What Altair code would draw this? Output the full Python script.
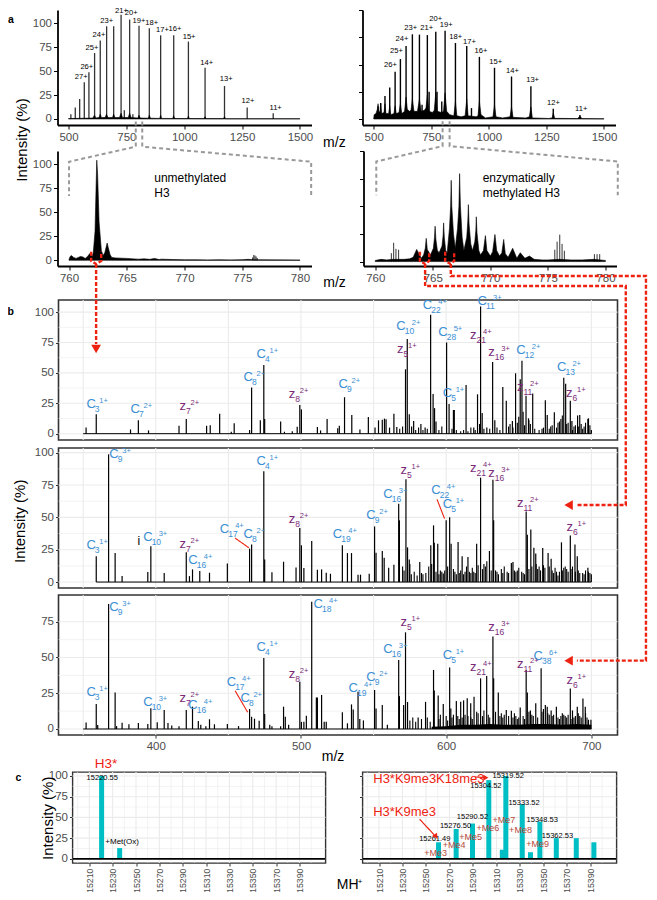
import altair as alt
import pandas as pd

FONT = "Liberation Sans"
GREY = "#4d4d4d"
BOX = "#333333"
BLUE = "#3b8fd4"
PURPLE = "#7a2a78"
RED = "#ee2211"
TEAL = "#00BFC4"
DASHGREY = "#999999"

# ---------- panel a, top ----------
a1_peaks = [(510,5),(529,12),(548,21),(568,38.5),(588,49),(612.5,69),(637,82),(664.5,97),(695,97),(727,109),
            (741,9),(764,104),(778,5),(804.5,97.5),(849,95),(898,87.5),(954.5,87.5),(1018,81),(1090,53.5),
            (1174,34.5),(1272,12),(1384.5,6)]
a1_base = [(500,.4),(605,1),(612,4),(618,1),(632,1.5),(637,5),(642,1.5),(658,1.5),(664,5),(670,1.5),(690,1.5),(695,5),
           (700,1.5),(720,1.5),(727,6),(733,1.5),(758,1.5),(764,6),(770,1.5),(800,1),(804,4),(810,1),(845,.8),(849,4),
           (854,.8),(894,.6),(898,4),(902,.6),(950,.5),(954,3.5),(959,.5),(1014,.5),(1018,3),(1022,.5),(1086,.4),(1090,2.5),
           (1094,.4),(1170,.4),(1174,2.5),(1178,.3),(1500,.3)]
a1_labels = [("27+",555,43.7),("26+",579,54.5),("25+",601,74),("24+",631,88),("23+",664.5,102),("21+",729,112.5),
             ("20+",771,111),("19+",804.5,103),("18+",859,100),("17+",905.5,93),("16+",960,94),("15+",1021,85.7),
             ("14+",1097,58.4),("13+",1181,41.3),("12+",1275,19),("11+",1395,11.5)]
a2_peaks = [(519,11.6),(530.4,14.7),(549,21),(569.6,29),(593,43.4),(616,55),(640.6,67),(668,77.7),(698.6,77.4),
            (710,13),(733,77),(740.6,25),(769.6,80),(775,25),(795.6,16),(810,81),(855,69.7),(904,67),(924.6,10),
            (959,57),(1024.6,47),(1098.5,39),(1182.6,30),(1279.7,9.5),(1395.6,3.7)]
a2_base = [(500,0),(502,4),(510,5),(516,9),(519,14),(522,6),(527,7),(530.4,14),(534,5),(545,6),(549,14),(553,5),(565,5),
           (569.6,12),(574,4),(588,5),(593,12),(598,5),(610,6),(616,14),(622,5),(634,7),(640.6,20),(646,9),(655,7),(662,8),
           (668,18),(675,7),(690,7),(698.6,18),(706,7),(720,8),(727,10),(733,22),(740,7),(755,6),(763,8),(769.6,24),(776,7),
           (795,6),(803,7),(810,24),(817,7),(830,4),(848,3),(855,16),(861,3),(880,2),(897,3),(904,18),(910,3),(945,2),(953,3),
           (959,16),(966,4),(985,1),(1018,2),(1024.6,13),(1031,2),(1060,1),(1092,2),(1098.5,11),(1105,1.5),(1160,1),(1176,2),
           (1182.6,11),(1189,1),(1260,.5),(1275,1),(1280,5.5),(1286,.6),(1385,.4),(1396,2.5),(1404,.4),(1500,.2)]
a2_labels = [("26+",572.5,49.5),("25+",598.6,62),("24+",623,73.4),("23+",661,83.5),("21+",730,83.5),("20+",769.6,92),
             ("19+",814.5,86),("18+",856,75),("17+",915.6,71),("16+",966,62.5),("15+",1030,52),("14+",1103,44.4),
             ("13+",1190,35.5),("12+",1281,14.7),("11+",1401,9.2)]

# ---------- panel a, zooms ----------
b1_env = [(760,1),(760.1,4),(760.2,5),(760.4,3),(760.6,2),(760.8,3),(761,4),(761.2,3.5),(761.4,2),(761.6,4),(761.8,7),
          (762,4),(762.1,8),(762.25,30),(762.3,55),(762.35,80),(762.4,104),(762.47,90),(762.55,60),(762.6,40),
          (762.7,25),(762.8,10),(762.95,5),(763.1,8),(763.2,13),(763.3,18),(763.4,13),(763.55,6),(763.7,3),(764,2.5),
          (765,2),(766,1.2),(766.5,1.5),(767,1),(767.4,2),(767.8,.8),(768,1.2),(769,.8),(770,.5),(771,.5),(772,.4),
          (773,.5),(774,.4),(775,.6),(775.5,1),(776,.6),(780,.3)]
b1_spikes = [(775.9,3),(776,5.5),(776.1,5),(776.2,4),(776.3,2.5)]
b1_zoomlines = [(1,765.78,144),(1,765.78,118),(1,760,102.4),(1,760,66.7),
                (2,766.34,144),(2,766.34,118),(2,780.97,102.4),(2,780.97,66.7)]
b2_env = [(760,1),(760.5,2),(761,1.5),(761.5,2),(762,2),(762.5,2),(763,2.5),(763.3,4),(763.6,11),(764,3),(764.2,6),
          (764.35,12),(764.43,21),(764.52,11),(764.8,6),(765.05,12),(765.15,22),(765.2,32),(765.27,20),(765.4,10),(765.55,8),
          (765.8,14),(765.9,24),(765.94,35),(766,22),(766.12,10),(766.25,8),(766.45,30),(766.55,50),(766.6,73.5),(766.65,50),
          (766.8,25),(766.95,12),(767.15,30),(767.27,50),(767.33,79.5),(767.4,50),(767.55,22),(767.7,10),(767.95,22),(768.04,36),
          (768.09,51.5),(768.15,34),(768.3,16),(768.45,10),(768.65,18),(768.74,28),(768.78,40.5),(768.84,26),(769,10),
          (769.15,6),(769.4,10),(769.57,23.5),(769.7,10),(770,5),(770.2,9),(770.4,24.5),(770.55,10),(770.8,5),(771,8),(771.16,20),
          (771.3,7),(771.55,4),(771.94,12),(772.3,3),(772.6,8),(773,3),(773.4,5),(773.8,2),(774.5,1.5),(775,1.5),(776,2),
          (777,1.5),(778,1.5),(779,2),(780,1)]
b2_spikes = [(761.4,7.6),(761.6,17),(761.8,11.5),(762.03,10.7),(775.6,10.7),(775.8,18),(776.03,24.4),(776.23,16),
             (776.43,9.8),(779.04,6.7),(779.27,6.7),(779.5,6.7)]
b2_zoomlines = [(1,765.85,126.8),(1,765.85,104.4),(1,760.09,90.5),(1,760.09,60),
                (2,766.46,126.8),(2,766.46,104.4),(2,781.07,90.5),(2,781.07,60)]

# ---------- panel b ----------
p1_peaks = [(352,5),(359,16),(382.6,3.5),(388,11),(395,2.7),(416,6.6),(421,12),(435,6.5),(437.5,7),(444,16.5),(452,1.6),
            (454,8.5),(464.6,3),(466,38),(472,11),(474.4,56.6),(475,12),(486,10),(488.6,1.6),(494,2),(497.4,5.8),
            (499.2,23.6),(500.3,20),(511.3,5.5),(513.5,2.7),(518,12),(525.3,4.4),(526.4,6.6),(530,30),(535,15.4),
            (540.6,3.5),(546.4,13.7),(551,5),(553.4,11),(556,11.5),(557.5,12.4),(558.6,11.8),(561,5),(564,16.5),(566,5.5),
            (572,53),(573.2,78),(574.6,16),(576.2,6),(577.6,10.4),(582.6,8),(585.5,5),(589.3,97.8),(591,32.7),(592,21),
            (593,10),(600.3,75),(602,24.5),(605,19.5),(605.6,19.5),(613.7,40),(619,5),(621.6,32.4),(623.7,104.7),(624.8,17),
            (628,5),(632,59),(633.5,11),(639,38.5),(641.4,27),(645.6,10.4),(647.8,49.7),(651,44.8),(652.2,60),(655,31.3),
            (656.7,12.6),(659.6,33),(668.3,27.5),(669.6,15.4),(674.5,17.6),(681,46),(682.3,41),(685.5,27),(686.6,10.4),
            (690.5,15),(692,15.4),(697.6,12),(698,12.6),(700,3)]
p1_grass = [(568,4),(570,6),(579,3),(581,5),(584,3),(587,4),(595,3),(597,6),(604,4),(607,3),(610,2),(612,3),(615,2),(617,5),
            (620,3),(623,8),(626,4),(630,4),(635,5),(637,3),(643,6),(644,8),(646,5),(649,9),(650,14),(653,18),(654,7),
            (657,11),(658,8),(661,4),(664,3),(666,4),(667,5),(671,4),(672,6),(673,7),(676,5),(677,9),(678,10),(679,12),
            (680,15),(683,8),(684,9),(687,3),(688,6),(689,7),(691,6),(693,8),(694,4),(695,6),(696,9),(699,7)]
p2_peaks = [(359,20),(367.5,98.7),(372,22.4),(376.8,4.6),(394.5,7.7),(396.6,27.6),(405.8,7),(421,23),(423.2,4.6),(425.3,9.8),
            (430.3,8.5),(437,7.2),(449.3,14.4),(464.6,25.8),(466,29),(474.4,85.6),(475,17.5),(480,7.5),(488,15.7),(496.6,11.3),
            (499.2,41.8),(500.3,28.4),(502,10.8),(507.4,31.7),(511.3,9.5),(514.2,9.8),(517.4,7.2),(520.3,6.4),(528.5,28.4),
            (532,22.4),(534.8,22.4),(539.3,5.7),(541,5.7),(547,6.4),(550.7,43),(551.7,22.7),(556,24),(557.3,18.8),(560.4,11),
            (564,13.4),(567.3,60.6),(567.8,47.7),(572.3,79.4),(573.4,26.8),(574.6,17.5),(581.8,15.5),(589.4,28.4),(591.3,43.8),
            (591.8,30.4),(594.2,29.6),(598,6.7),(600,47.7),(602.4,50),(603.4,29.6),(608.2,31),(611,20),(615,19.4),(621,29.6),
            (623.7,80.7),(629.8,24),(632.2,79),(632.7,47.7),(644.9,14.7),(646,15.5),(655.1,54.6),(655.9,36.6),(658.3,40.7),
            (660.4,26.5),(661.7,22),(666.5,26.3),(670.2,22.4),(672.3,18),(679.4,30.7),(685.5,36),(688.7,29),(690.3,20),(697.6,11)]
p2_grass = [(570,12),(571,9),(575,14),(576,6),(578,8),(580,5),(583,7),(584,6),(586,7),(588,12),(590,14),(593,8),(595,6),(596,9),
            (597,8),(599,9),(601,12),(605,10),(606,8),(607,6),(609,7),(610,9),(612,6),(613,8),(614,12),(616,8),(617,7),(618,11),
            (619,8),(620,7),(622,13),(625,10),(626,14),(627,12),(628,16),(631,9),(634,9),(635,8),(636,6),(638,10),(639,7),(640,12),
            (642,8),(643,7),(647,9),(648,8),(649,9),(650,11),(652,8),(653,7),(654,6),(657,10),(659,12),(662,14),(663,10),(664,12),
            (665,9),(667,13),(668,11),(671,12),(673,9),(674,7),(675,11),(676,8),(677,5),(678,8),(680,9),(681,11),(682,12),(683,10),
            (684,8),(686,10),(687,12),(689,8),(691,9),(692,7),(694,7),(695,6),(696,9),(698,8),(699,7),(700,6)]
p3_peaks = [(352,4.6),(359,17.5),(360,2.8),(367.5,87.4),(372,25.6),(373,2),(376.8,4.4),(381.5,3.3),(388,4.2),(394.5,3.5),(396.6,14.5),
            (401,4.7),(405.8,13.3),(408.4,4.2),(411,2.5),(416,2),(421,13.3),(425.3,15.6),(429.3,5.6),(431,3),(434.5,2),(437,6.8),
            (440.4,3.3),(449.3,3.5),(457,2),(464.6,14),(466,8.6),(468,7.2),(471.2,5.8),(474.4,49.6),(475,10.5),(478.5,3),(480,2),
            (486,2),(488,15.6),(489.2,8.6),(491.5,3),(499.2,33),(500.3,5),(502,5),(503.7,9.3),(507.4,89),(510.6,22),(511.3,22),
            (514.2,23.8),(516,5),(517.4,5),(528.5,11.7),(532,4),(534.8,17.2),(536,13.7),(539.3,26),(540.5,7),(543,6),(550.7,27.3),
            (551.7,14.4),(556,16.8),(559.5,3),(567.3,48.3),(567.8,23),(570.7,16.8),(572,67.6),(573.4,18.9),(580.7,8),(585.8,19),
            (591.3,41.3),(591.8,27),(594.5,23.5),(598,17.5),(602.4,43),(603.2,14.4),(607,19.6),(610,19),(612,20),(614.5,21.5),
            (616.9,18),(619.2,22.6),(623.7,35.4),(627.9,37),(632.2,64.6),(632.7,35.4),(635.9,25.6),(641.4,13.3),(644.9,12.8),(651,15),
            (655.1,41.3),(655.9,25.6),(658,13),(661.7,18),(665.4,42.4),(668.3,16.8),(669.6,15.6),(672.3,13),(675.9,15.6),(680,11),
            (685.5,28.4),(687,13),(690.3,15.6),(694.2,21.4),(695.8,15.6),(698,6.5),(699.7,6.5)]
p3_grass = [(575,6),(577,8),(579,5),(583,7),(587,8),(589,5),(595,7),(596,10),(600,9),(601,6),(604,8),(605,10),(608,9),(609,7),
            (611,8),(613,10),(615,9),(617,8),(618,7),(621,12),(622,11),(625,9),(626,13),(629,10),(630,8),(634,12),(637,9),(638,11),
            (639,8),(640,10),(643,9),(646,8),(647,11),(648,9),(649,7),(650,8),(653,9),(654,7),(657,12),(659,10),(660,9),(663,8),
            (666,12),(667,14),(670,11),(671,10),(673,9),(674,10),(677,8),(678,7),(679,9),(681,10),(682,9),(683,8),(684,10),(686,7),
            (688,8),(689,9),(691,11),(692,9),(693,8),(696,11),(697,8)]
p3_floor = [(590,1.5),(600,2),(610,3),(620,3),(630,3.5),(640,3),(650,3),(660,3.5),(670,3.5),(680,3),(690,3.5),(700,3)]

# (letter, subscript, superscript, m/z, intensity)
p1_labels = [("C","3","1+",352.2,24.5),("C","7","2+",382.6,20),("z","7","2+",416.4,22.8),("C","8","2+",460.4,46.4),
             ("C","4","1+",469.4,65.4),("z","8","2+",491.6,32.4),("C","9","2+",525.9,40.7),("C","10","2+",565.7,89),
             ("z","5","1+",566.2,69.8),("C","22","4+",583.9,105.5),("C","28","5+",594.5,84),("C","5","1+",597.6,33.8),
             ("C","11","3+",621.6,108.8),("z","21","4+",616.4,80.8),("z","16","3+",629,67.6),("C","12","2+",648.3,69),
             ("z","11","2+",648.8,38.2),("C","13","2+",676.3,54.7),("z","6","1+",682.6,33.2)]
p2_labels = [("C","3","1+",352.2,29),("C","9","3+",368,98.7),("C","4","1+",469.4,93.3),("C","10","3+",391.3,34.8),
             ("z","7","2+",416.4,29.6),("C","16","4+",422.4,17.3),("C","17","4+",444,41.2),("C","8","2+",460.4,37.4),
             ("z","8","2+",491.6,48.5),("C","19","4+",521.9,36.9),("C","9","2+",545,52),("C","16","3+",556.7,68.3),
             ("z","5","1+",568.6,86.3),("C","22","4+",589.7,70.9),("C","5","1+",597.6,60),("z","21","4+",616.4,88.4),
             ("z","16","3+",629,84.5),("z","11","2+",648.8,61.3),("z","6","1+",682.9,42.5)]
p3_labels = [("C","3","1+",352.2,26),("C","9","3+",368,85.5),("C","10","3+",391.3,19),("z","7","2+",416.4,22),
             ("C","16","4+",422.4,16.8),("C","17","4+",448.8,32.6),("C","8","2+",458.3,22),("C","4","1+",469.4,57.3),
             ("z","8","2+",491.6,38.5),("C","18","4+",508.7,87.4),("C","19","4+",532.7,28.9),("C","9","2+",545,36.6),
             ("C","16","3+",556.7,56),("z","5","1+",568.6,74.6),("C","5","1+",597.6,51.7),("z","21","4+",616.4,43.6),
             ("z","16","3+",629,71.6),("z","11","2+",648.8,45.5),("C","38","6+",660.2,51.3),("z","6","1+",682.9,34.3)]
p2_leaders = [(1,454.6,34),(1,464.1,26.5),(2,593.7,63.9),(2,598.9,49)]
p3_leaders = [(1,454.6,26.8),(1,463.3,11.7)]

# red connectors, expressed on panel-3 axes
red_paths = [(1,355.5,333.8),(1,355.5,327.3),(1,358.9,325.2),(1,362.4,327.3),(1,362.4,333.8),
             (2,358.9,325.2),(2,358.9,269.2),
             (3,581.9,333.8),(3,581.9,327.3),(3,585.5,325.2),(3,588.3,327.3),(3,588.3,333.8),
             (4,585.5,325.2),(4,585.5,309.8),(4,723.7,309.8),(4,723.7,156.6),(4,690,156.6),
             (5,599.3,333.8),(5,599.3,327.3),(5,603.2,325.2),(5,605.5,327.3),(5,605.5,333.8),
             (6,603.2,325.2),(6,603.2,316.8),(6,737.6,316.8),(6,737.6,47.8),(6,690,47.8)]
red_heads = [("triangle-down",358.9,265.7),("triangle-left",684.3,156.6),("triangle-left",684.3,47.8)]

# ---------- panel c ----------
c1_bars = [(15220.55,100),(15236,13)]
c2_bars = [(15260.7,20),(15275.7,36),(15289.6,42.6),(15303.5,95),(15315,11),(15318,100),(15332,66),(15339,8),
           (15347,45),(15361,25),(15378,25),(15393,20)]
c2_mass = [("15261.49",15257.5,23.7),("15276.50",15275.2,40),("15290.52",15289.6,51),("15304.52",15301,88.4),
           ("15319.52",15320,99.6),("15333.52",15333.5,67.9),("15348.53",15349,46.6),("15362.53",15362,27.7)]
c2_me = [("+Me3",15258.3,7.6),("+Me4",15274,16.9),("+Me5",15288,26),("+Me6",15302.7,37),("+Me7",15316.4,46.6),
         ("+Me8",15330.5,34.5),("+Me9",15345,18.5)]
c_ticks = [15210,15230,15250,15270,15290,15310,15330,15350,15370,15390]
c_xgrid = [15200,15210,15220,15230,15240,15250,15260,15270,15280,15290,15300,15310,15320,15330,15340,15350,15360,15370,15380,15390,15400]
b_xgrid = [350,400,450,500,550,600,650,700]
p12_ygrid = [0,12.5,25,37.5,50,62.5,75,87.5,100]
p3_ygrid = [0,12.5,25,37.5,50,62.5,75]
c_ygrid = [0,12.5,25,37.5,50,62.5,75,87.5,100]


def frame(rows, *cols):
    return pd.DataFrame(rows, columns=list(cols))


def xe(dom, field="x"):
    return alt.X(f"{field}:Q", scale=alt.Scale(domain=dom, nice=False, zero=False), title=None)


def ye(dom, field="y"):
    return alt.Y(f"{field}:Q", scale=alt.Scale(domain=dom, nice=False, zero=False), title=None)


def rules(rows, dx, dy, width=1.0, color="black", opacity=1.0):
    return alt.Chart(frame(rows, "x", "y")).mark_rule(color=color, strokeWidth=width, opacity=opacity).encode(
        x=xe(dx), y=ye(dy), y2=alt.datum(0))


def area(rows, dx, dy):
    return alt.Chart(frame(rows, "x", "y")).mark_area(color="black", stroke="black", strokeWidth=0.6).encode(
        x=xe(dx), y=ye(dy), y2=alt.datum(0))


def texts(rows, dx, dy, size=8, color="black", align="center", weight="normal", angle=0):
    return alt.Chart(frame(rows, "t", "x", "y")).mark_text(
        fontSize=size, color=color, align=align, baseline="middle", fontWeight=weight, font=FONT, angle=angle).encode(
        x=xe(dx), y=ye(dy), text="t:N")


def paths(rows, dx, dy, color, width, dash):
    d = frame(rows, "g", "x", "y").reset_index()
    return alt.Chart(d).mark_line(color=color, strokeWidth=width, strokeDash=dash, interpolate="linear").encode(
        x=xe(dx), y=ye(dy), detail="g:N", order="index:Q")


def with_axes(layers, xaxis, yaxis):
    out = []
    for l in layers:
        enc = l.encoding
        if enc.x is not alt.Undefined:
            enc.x["axis"] = xaxis
        if enc.y is not alt.Undefined:
            enc.y["axis"] = yaxis
        out.append(l)
    return out


def axis_open(labels=True, values=None):
    return alt.Axis(domainColor="black", domainWidth=1.8, tickColor="black", tickSize=4, tickWidth=1, grid=False,
                    labels=labels, labelColor=GREY, labelFontSize=11.5, labelFont=FONT, labelPadding=2, values=values,
                    title=None, format="d")


def axis_box(show_labels=True, values=None):
    return alt.Axis(domain=False, tickColor=BOX, tickSize=3, tickWidth=1, grid=False, labels=show_labels,
                    labelColor=GREY, labelFontSize=11.5, labelFont=FONT, labelPadding=2, values=values, title=None)


def open_panel(layers, xvals, yvals, w, h, ylabels):
    ls = with_axes(layers, axis_open(values=xvals), axis_open(labels=ylabels, values=yvals))
    return alt.layer(*ls).properties(width=w, height=h)


def grid_layers(dx, dy, xg, yg, major_x, major_y):
    out = []
    for vals, major, ch in ((xg, major_x, "x"), (yg, major_y, "y")):
        d = pd.DataFrame({ch: vals})
        d["m"] = [v in major for v in vals]
        for flag, w in ((False, 0.6), (True, 1.1)):
            sub = d[d["m"] == flag]
            if len(sub):
                enc = {"x": xe(dx)} if ch == "x" else {"y": ye(dy)}
                out.append(alt.Chart(sub).mark_rule(color="#ebebeb", strokeWidth=w).encode(**enc))
    return out


def frag_labels(rows, dx, dy, per_px):
    r = []
    for L, sub, sup, x, y in rows:
        two = len(sub) > 1
        if L == "C":
            xs, xp = x + 8.5 * per_px, x + (15.5 if two else 13) * per_px
            col = BLUE
        else:
            xs, xp = x + 6.5 * per_px, x + (13 if two else 11) * per_px
            col = PURPLE
        r.append(dict(L=L, sub=sub, sup=sup, x=x, y=y, xs=xs, xp=xp, col=col))
    d = pd.DataFrame(r)
    col = alt.Color("col:N", scale=None)
    a = alt.Chart(d).mark_text(fontSize=13, align="left", baseline="middle", font=FONT).encode(
        x=xe(dx), y=ye(dy), text="L:N", color=col)
    b = alt.Chart(d).mark_text(fontSize=8.5, align="left", baseline="middle", font=FONT, dy=5).encode(
        x=xe(dx, "xs"), y=ye(dy), text="sub:N", color=col)
    c = alt.Chart(d).mark_text(fontSize=7.5, align="left", baseline="middle", font=FONT, dy=-3).encode(
        x=xe(dx, "xp"), y=ye(dy), text="sup:N", color=col)
    return [a, b, c]


def spacer(w, h):
    return alt.Chart(pd.DataFrame({"k": [0]})).mark_point(opacity=0).encode(
        x=alt.value(0), y=alt.value(0)).properties(width=w, height=h)


# ---- scales ----
DA1 = [452.2, 1550]
DA1Y = [-6.3, 114]
DA2 = [451.4, 1550]
DA2Y = [-5.5, 100]
DB1 = [759, 781]
DB1Y = [-5.9, 113.5]
DB2 = [758.98, 780.96]
DB2Y = [-4, 100]
DP = [333, 718]
DP1Y = [-5.2, 110]
DP2Y = [-4.6, 103.6]
DP3Y = [-4.2, 93.7]
DC1 = [15199.9, 15408]
DC2 = [15200.2, 15408]
DCY = [-5, 104.8]
PX = 1 / 1.453
INT = "Intensity (%)"

a1 = open_panel([
    area(a1_base, DA1, DA1Y), rules(a1_peaks, DA1, DA1Y, 1.3, opacity=.8), texts(a1_labels, DA1, DA1Y, 7.6),
    texts([("a", 238, 103.7)], DA1, DA1Y, 10.5, weight="bold", align="left"),
    texts([(INT, 300, -22)], DA1, DA1Y, 15, angle=270),
    texts([("m/z", 1649, -25)], DA1, DA1Y, 14),
], [500, 750, 1000, 1250, 1500], [0, 25, 50, 75, 100], 254, 115, True)

a2 = open_panel([
    area(a2_base, DA2, DA2Y), rules(a2_peaks, DA2, DA2Y, 1.4), texts(a2_labels, DA2, DA2Y, 7.6),
], [500, 750, 1000, 1250, 1500], [0, 25, 50, 75, 100], 253, 115, False)

b1 = open_panel([
    area(b1_env, DB1, DB1Y), rules(b1_spikes, DB1, DB1Y, 0.8),
    paths(b1_zoomlines, DB1, DB1Y, DASHGREY, 2, [4, 3]),
    texts([("unmethylated", 767.38, 85), ("H3", 767.38, 70)], DB1, DB1Y, 12, align="left"),
    texts([("m/z", 783, -24)], DB1, DB1Y, 14),
], [760, 765, 770, 775, 780], [0, 25, 50, 75, 100], 254, 115, True)

b2 = open_panel([
    area(b2_env, DB2, DB2Y), rules(b2_spikes, DB2, DB2Y, 0.8),
    paths(b2_zoomlines, DB2, DB2Y, DASHGREY, 2, [4, 3]),
    texts([("enzymatically", 769.33, 75.3), ("methylated H3", 769.33, 62.2)], DB2, DB2Y, 12, align="left"),
], [760, 765, 770, 775, 780], [0, 25, 50, 75, 100], 253, 115, False)


def box_panel(peaks, grass, labels, dy, ygrid, yvals, extra, x_axis=False, start=350):
    g = grid_layers(DP, dy, b_xgrid, ygrid, b_xgrid, yvals)
    floor = alt.Chart(pd.DataFrame({"x": [start], "x2": [700], "y": [0]})).mark_rule(color="black", strokeWidth=1).encode(
        x=xe(DP), x2="x2:Q", y=ye(dy))
    ls = with_axes([*g, floor, rules(grass, DP, dy, 1.1), rules(peaks, DP, dy, 1.2),
                    *extra, *frag_labels(labels, DP, dy, PX)],
                   axis_box(values=[400, 500, 600, 700]) if x_axis else None, axis_box(values=yvals))
    return alt.layer(*ls).properties(width=559, height=140, view=alt.ViewBackground(stroke=BOX, strokeWidth=1.6))


p1 = box_panel(p1_peaks, p1_grass, p1_labels, DP1Y, p12_ygrid, [0, 25, 50, 75, 100], [
    texts([("b", 297.8, 100)], DP, DP1Y, 10.5, weight="bold", align="left"),
])
p2 = box_panel(p2_peaks, p2_grass, p2_labels, DP2Y, p12_ygrid, [0, 25, 50, 75, 100], [
    paths(p2_leaders, DP, DP2Y, RED, 1.1, [1, 0]),
    texts([("i", 388.4, 31.7)], DP, DP2Y, 12),
    texts([(INT, 306.8, 47)], DP, DP2Y, 15, angle=270),
], start=359)
heads = []
for shape, hx, hy in red_heads:
    heads.append(alt.Chart(frame([(hx, hy)], "x", "y")).mark_point(
        shape=shape, filled=True, color=RED, size=95, opacity=1).encode(x=xe(DP), y=ye(DP3Y)))
p3 = box_panel(p3_peaks, p3_grass, p3_labels, DP3Y, p3_ygrid, [0, 25, 50, 75], [
    alt.Chart(frame(p3_floor, "x", "y")).mark_area(color="black").encode(x=xe(DP), y=ye(DP3Y), y2=alt.datum(0)),
    paths(p3_leaders, DP, DP3Y, RED, 1.1, [1, 0]),
    paths(red_paths, DP, DP3Y, RED, 2.4, [4, 2]),
    *heads,
    texts([("m/z", 522.1, -19.6)], DP, DP3Y, 14),
], x_axis=True)


def c_axis_x():
    return alt.Axis(domain=False, tickColor=BOX, tickSize=3, grid=False, values=c_ticks, labelAngle=270, labelAlign="right",
                    labelBaseline="middle", labelColor=GREY, labelFontSize=8.8, labelFont=FONT, labelPadding=2, title=None,
                    labelOverlap=False, format="d")


def c_panel(bars, dx, w, ylabels, extra):
    g = grid_layers(dx, DCY, c_xgrid, c_ygrid, c_ticks, [0, 25, 50, 75, 100])
    b = alt.Chart(frame(bars, "x", "y")).mark_bar(color=TEAL, size=5).encode(x=xe(dx), y=ye(DCY), y2=alt.datum(0))
    zero = alt.Chart(pd.DataFrame({"y": [0]})).mark_rule(color="black", strokeWidth=1.6).encode(y=ye(DCY))
    ls = with_axes([*g, b, zero, *extra], c_axis_x(), axis_box(show_labels=ylabels, values=[0, 25, 50, 75, 100]))
    return alt.layer(*ls).properties(width=w, height=91, view=alt.ViewBackground(stroke=BOX, strokeWidth=1.4))


c1 = c_panel(c1_bars, DC1, 253, True, [
    texts([("H3*", 15214.7, 114.5)], DC1, DCY, 13.5, color=RED, align="left"),
    texts([("15220.55", 15221.1, 98)], DC1, DCY, 7.5),
    texts([("+Met(Ox)", 15223.7, 20.5)], DC1, DCY, 8, align="left"),
    texts([(INT, 15174.5, 49)], DC1, DCY, 15, angle=270),
    texts([("c", 15146.7, 97.6)], DC1, DCY, 10.5, weight="bold", align="left"),
])
c2 = c_panel(c2_bars, DC2, 254, False, [
    texts(c2_mass, DC2, DCY, 7.5),
    texts(c2_me, DC2, DCY, 9, color="#b5473c"),
    texts([("H3*K9me3K18me3", 15205.1, 96.8), ("H3*K9me3", 15205, 56.6)], DC2, DCY, 13, color=RED, align="left"),
    paths([(1, 15291.8, 98.8), (1, 15300, 98.2), (2, 15244.6, 47.8), (2, 15257, 29)], DC2, DCY, RED, 1.2, [1, 0]),
    alt.Chart(frame([(15301, 98)], "x", "y")).mark_point(shape="triangle-right", filled=True, color=RED, size=35, opacity=1).encode(
        x=xe(DC2), y=ye(DCY)),
    alt.Chart(frame([(15258.5, 27)], "x", "y")).mark_point(shape="triangle-up", angle=147, filled=True, color=RED, size=35, opacity=1).encode(
        x=xe(DC2), y=ye(DCY)),
    texts([("MH", 15174, -31.7)], DC2, DCY, 14, align="left"),
    texts([("+", 15192, -28)], DC2, DCY, 8, align="left"),
])


def row(*charts):
    return alt.hconcat(*charts, spacing=0, bounds="flush")


# the second column of spacers sets each row's pitch; nested rows count as zero-size under flush bounds
cells = [
    row(spacer(1, 1), a1, spacer(51, 1), a2), spacer(1, 141),
    row(spacer(1, 1), b1, spacer(52, 1), b2), spacer(1, 149),
    row(spacer(2, 1), p1), spacer(1, 148),
    row(spacer(2, 1), p2), spacer(1, 147),
    row(spacer(2, 1), p3), spacer(1, 177),
    row(spacer(16, 1), c1, spacer(37, 1), c2), spacer(1, 91),
]

chart = alt.concat(
    *cells, columns=2, spacing=0, bounds="flush",
).properties(
    autosize=alt.AutoSizeParams(type="none"),
    padding={"left": 48.5, "top": 2, "right": 592.5, "bottom": 882},
).configure(font=FONT).configure_view(stroke=None)

chart.save("out.html", embed_options={"renderer": "svg", "actions": False})
